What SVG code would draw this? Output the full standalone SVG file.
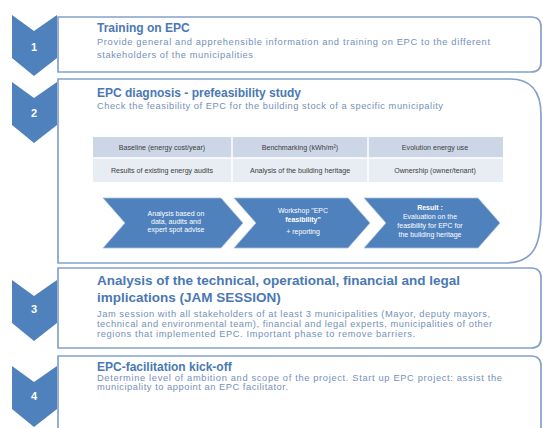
<svg xmlns="http://www.w3.org/2000/svg" width="543" height="428" viewBox="0 0 543 428">
  <defs>
    <style>
      .frame { fill: #ffffff; stroke: #84a1cb; stroke-width: 1.7; }
      .badge { fill: #4f81bd; }
      .badge-num { fill: #ffffff; font-family: "Liberation Sans", Arial, sans-serif; font-size: 11px; font-weight: bold; text-anchor: middle; }
      .title { fill: #4a78b5; font-family: "Liberation Sans", Arial, sans-serif; font-size: 12px; font-weight: bold; }
      .title-lg { fill: #4a78b5; font-family: "Liberation Sans", Arial, sans-serif; font-size: 13.5px; font-weight: bold; }
      .body { fill: #7590b9; font-family: "Liberation Sans", Arial, sans-serif; font-size: 9.3px; }
      .cell-head { fill: #cdd6e6; }
      .cell-row { fill: #e8ecf3; }
      .cell-text { fill: #3c3c3c; font-family: "Liberation Sans", Arial, sans-serif; font-size: 7.1px; text-anchor: middle; }
      .grid { stroke: #ffffff; stroke-width: 1.5; }
      .step { fill: #4f81bd; stroke: #a9bfdf; stroke-width: 0.8; }
      .step-text { fill: #ffffff; font-family: "Liberation Sans", Arial, sans-serif; font-size: 7px; text-anchor: middle; }
    </style>
    <!-- downward chevron badge, 45 wide, 61 tall -->
    <path id="chevron" d="M0,0 L22,16 L45,0 L45,43 L22,61 L0,43 Z"/>
  </defs>

  <rect width="543" height="428" fill="#ffffff"/>

  <!-- Step 1 -->
  <g id="step1">
    <path class="frame" d="M58,17 H531 Q541,17 541,27 V62 Q541,72 531,72 H58 Z"/>
    <use href="#chevron" class="badge" x="12" y="15"/>
    <text class="badge-num" x="34" y="51">1</text>
    <text class="title" x="97" y="32">Training on EPC</text>
    <text class="body" x="97" y="45" textLength="393">Provide general and apprehensible information and training on EPC to the different</text>
    <text class="body" x="97" y="58" textLength="156">stakeholders of the municipalities</text>
  </g>

  <!-- Step 2 -->
  <g id="step2">
    <path class="frame" d="M58,79 H510 C532,79 541,92 541,115 V212 C541,245 534,263 505,263 H58 Z"/>
    <use href="#chevron" class="badge" x="12" y="82"/>
    <text class="badge-num" x="34" y="117">2</text>
    <text class="title" x="97" y="97">EPC diagnosis - prefeasibility study</text>
    <text class="body" x="97" y="109" textLength="346">Check the feasibility of EPC for the building stock of a specific municipality</text>

    <g id="step2-table">
      <rect class="cell-head" x="93" y="137" width="410" height="21"/>
      <rect class="cell-row" x="93" y="158" width="410" height="24"/>
      <line class="grid" x1="93" y1="158" x2="503" y2="158"/>
      <line class="grid" x1="232" y1="137" x2="232" y2="182"/>
      <line class="grid" x1="368" y1="137" x2="368" y2="182"/>
      <text class="cell-text" x="162" y="150">Baseline  (energy cost/year)</text>
      <text class="cell-text" x="300" y="150">Benchmarking (kWh/m²)</text>
      <text class="cell-text" x="435" y="150">Evolution  energy use</text>
      <text class="cell-text" x="162" y="173">Results  of existing energy  audits</text>
      <text class="cell-text" x="300" y="173">Analysis  of the building  heritage</text>
      <text class="cell-text" x="435" y="173">Ownership  (owner/tenant)</text>
    </g>

    <g id="step2-flow">
      <path class="step" d="M103,198 L221,198 L243,223 L221,248 L103,248 L125,223 Z"/>
      <path class="step" d="M234,198 L348,198 L370,223 L348,248 L234,248 L256,223 Z"/>
      <path class="step" d="M364,198 L478,198 L500,223 L478,248 L364,248 L386,223 Z"/>
      <text class="step-text" x="176" y="216">Analysis  based on</text>
      <text class="step-text" x="176" y="224">data, audits and</text>
      <text class="step-text" x="176" y="232">expert spot advise</text>
      <text class="step-text" x="303" y="213">Workshop  "EPC</text>
      <text class="step-text" x="303" y="222" font-weight="bold">feasibility"</text>
      <text class="step-text" x="303" y="234">+ reporting</text>
      <text class="step-text" x="430" y="210" font-weight="bold">Result  :</text>
      <text class="step-text" x="430" y="219">Evaluation on the</text>
      <text class="step-text" x="430" y="228">feasibility  for EPC for</text>
      <text class="step-text" x="430" y="237">the building heritage</text>
    </g>
  </g>

  <!-- Step 3 -->
  <g id="step3">
    <path class="frame" d="M58,268 H531 Q541,268 541,278 V338 Q541,348 531,348 H58 Z"/>
    <use href="#chevron" class="badge" x="12" y="280"/>
    <text class="badge-num" x="34" y="313">3</text>
    <text class="title-lg" x="97" y="285" textLength="363">Analysis of the technical, operational, financial and legal</text>
    <text class="title-lg" x="97" y="302">implications (JAM SESSION)</text>
    <text class="body" x="97" y="317" textLength="393">Jam session with all stakeholders of at least 3 municipalities (Mayor, deputy mayors,</text>
    <text class="body" x="97" y="327" textLength="395">technical and environmental team), financial and legal experts, municipalities of other</text>
    <text class="body" x="97" y="337" textLength="318">regions that implemented EPC. Important phase to remove barriers.</text>
  </g>

  <!-- Step 4 -->
  <g id="step4">
    <path class="frame" d="M58,430 V356 H531 Q541,356 541,366 V430"/>
    <use href="#chevron" class="badge" x="12" y="366"/>
    <text class="badge-num" x="34" y="400">4</text>
    <text class="title" x="97" y="371">EPC-facilitation kick-off</text>
    <text class="body" x="97" y="381" textLength="405">Determine level  of ambition and  scope of the project. Start up EPC project: assist the</text>
    <text class="body" x="97" y="390" textLength="191">municipality to appoint an EPC facilitator.</text>
  </g>
</svg>
